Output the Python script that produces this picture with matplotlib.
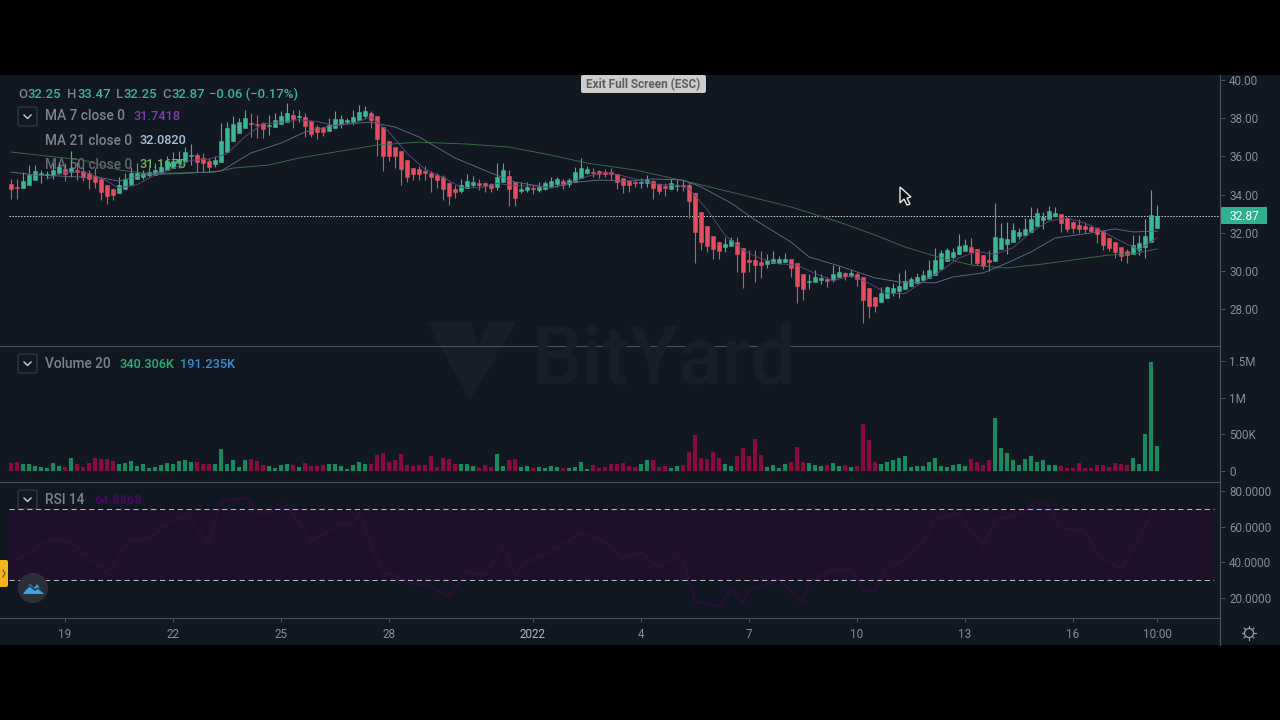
import matplotlib
matplotlib.use("Agg")
import matplotlib.pyplot as plt
from matplotlib.patches import Rectangle, FancyBboxPatch, Circle, Polygon
import numpy as np

plt.rcParams["font.family"] = ["Roboto", "DejaVu Sans"]

# 4h candles
opens = [34.55,34.40,34.34,34.50,34.76,35.08,35.03,35.03,35.13,35.34,35.18,35.29,
         35.24,35.13,34.97,34.82,34.50,34.29,34.08,34.29,34.50,34.82,34.92,35.03,
         35.03,35.13,35.29,35.39,35.65,35.76,36.02,36.07,35.92,35.76,35.60,35.71,
         36.23,36.81,37.23,37.49,37.75,37.70,37.75,37.59,37.54,37.70,37.80,38.17,
         38.07,38.07,37.85,37.54,37.49,37.33,37.49,37.70,37.80,37.80,37.91,38.12,
         38.27,38.12,37.54,36.81,36.49,36.28,35.81,35.39,35.34,35.24,35.13,35.03,
         34.92,34.61,34.29,34.19,34.34,34.50,34.61,34.61,34.55,34.40,34.66,34.97,
         34.66,34.19,34.24,34.34,34.24,34.29,34.45,34.55,34.71,34.55,34.66,34.87,
         35.13,35.18,35.24,35.18,35.18,35.08,34.87,34.71,34.66,34.61,34.61,34.71,
         34.55,34.45,34.29,34.45,34.50,34.50,34.08,33.09,32.35,31.83,31.51,31.25,
         31.30,31.51,31.20,30.57,30.57,30.47,30.36,30.41,30.41,30.47,30.62,30.41,
         29.84,29.42,29.42,29.52,29.58,29.52,29.68,29.89,29.73,29.84,29.68,29.10,
         28.63,28.37,28.58,28.84,28.95,29.05,29.21,29.37,29.52,29.63,29.79,30.10,
         30.52,30.73,30.89,31.04,31.25,31.15,30.83,30.57,30.52,31.15,31.41,31.51,
         31.83,31.88,32.04,32.35,32.67,32.72,32.88,32.98,32.77,32.56,32.40,32.35,
         32.30,32.25,32.09,31.72,31.51,31.25,31.04,30.89,31.10,31.25,31.51,32.25]
closes = [34.29,34.34,34.71,35.03,35.24,35.13,35.08,35.29,35.45,35.08,35.39,35.18,
          34.92,34.82,34.66,34.13,33.93,33.98,34.50,34.82,35.13,35.13,35.13,35.18,
          35.29,35.45,35.76,35.76,35.86,36.23,36.07,35.71,35.65,35.45,35.81,36.81,
          37.49,37.70,37.80,38.01,37.70,37.65,37.44,37.65,37.91,38.12,38.27,37.96,
          38.12,37.59,37.17,37.28,37.28,37.65,37.96,37.96,37.91,38.07,38.33,38.38,
          37.91,36.91,36.02,36.02,36.02,35.34,34.92,35.08,35.08,35.13,34.92,34.76,
          34.29,33.93,34.13,34.50,34.71,34.66,34.50,34.45,34.34,34.92,35.29,34.29,
          33.82,34.29,34.40,34.29,34.40,34.61,34.71,34.82,34.50,34.76,35.18,35.39,
          35.34,35.13,35.08,35.08,35.08,34.66,34.50,34.50,34.61,34.66,34.76,34.34,
          34.19,34.34,34.61,34.50,34.45,33.66,32.04,31.51,31.30,31.15,31.04,31.41,
          31.62,30.89,29.94,30.47,30.31,30.31,30.57,30.62,30.62,30.62,30.15,29.21,
          29.05,29.47,29.68,29.63,29.47,29.84,29.94,29.73,29.89,29.58,28.48,28.16,
          28.16,28.84,29.16,29.10,29.21,29.47,29.58,29.68,29.79,30.05,30.57,30.94,
          31.10,30.99,31.30,31.36,30.99,30.41,30.26,30.47,31.78,31.72,31.67,32.14,
          32.04,32.20,32.72,33.03,32.82,33.14,33.03,32.51,32.20,32.25,32.20,32.20,
          32.09,31.93,31.36,31.20,30.99,30.78,30.83,31.36,31.46,31.83,32.93,32.87]
highs = [34.82,34.82,35.18,35.55,35.55,35.29,35.24,35.65,35.71,35.65,36.28,35.71,
         35.45,35.29,35.39,34.92,34.50,34.34,34.92,35.13,35.45,35.65,35.29,35.45,
         35.65,35.71,36.02,36.23,36.28,36.49,36.65,36.18,36.18,35.92,36.02,37.75,
         37.80,38.12,38.01,38.43,38.27,38.17,37.80,38.17,38.27,38.38,38.80,38.43,
         38.43,38.27,37.85,37.65,37.54,38.01,38.38,38.17,38.01,38.43,38.69,38.64,
         38.38,38.12,37.54,36.81,36.49,36.28,35.81,35.39,35.50,35.50,35.24,35.13,
         35.03,34.66,34.50,34.82,35.08,34.97,34.82,34.66,34.61,35.65,35.65,35.29,
         34.66,34.66,34.66,34.50,34.66,34.71,34.92,34.92,34.82,34.87,35.45,35.92,
         35.50,35.39,35.29,35.34,35.39,35.08,34.87,34.76,34.71,34.87,35.03,34.76,
         34.61,34.61,34.82,34.76,34.76,34.66,34.08,33.09,32.35,31.83,31.51,31.78,
         31.78,31.78,31.20,31.10,31.10,31.04,30.89,31.04,30.78,30.94,30.62,30.41,
         29.84,29.84,30.05,29.84,29.68,30.31,30.26,29.94,30.05,29.94,29.68,29.10,
         28.63,29.16,29.21,29.37,29.89,30.05,29.68,29.89,30.05,30.57,31.20,31.10,
         31.20,31.20,31.93,31.67,31.72,31.15,30.83,31.10,33.56,32.51,32.56,32.51,
         32.25,32.77,33.35,33.30,33.09,33.40,33.35,32.98,32.77,32.61,32.72,32.56,
         32.40,32.30,32.09,31.72,31.51,31.25,31.15,31.88,31.88,32.72,34.24,33.47]
lows = [33.77,33.77,34.34,34.50,34.76,34.61,34.82,34.82,35.13,34.71,34.92,34.76,
        34.71,34.29,34.34,33.72,33.51,33.72,34.08,34.29,34.50,34.82,34.82,34.92,
        35.03,35.13,35.29,35.39,35.39,35.76,35.55,35.18,35.18,35.18,35.45,35.71,
        36.23,36.81,37.23,37.49,37.02,36.96,36.96,37.12,37.54,37.70,37.80,37.49,
        37.80,37.02,37.02,36.91,37.07,37.33,37.49,37.49,37.70,37.65,37.91,38.01,
        37.49,36.02,35.24,35.76,35.39,34.50,34.66,34.76,34.76,34.76,34.13,34.34,
        33.72,33.45,33.82,34.08,34.34,34.40,34.24,34.13,34.13,34.24,34.66,33.40,
        33.40,34.08,34.13,34.03,34.13,34.24,34.40,34.40,34.29,34.40,34.66,34.87,
        35.08,34.92,34.87,34.92,34.76,34.29,34.08,34.13,34.40,34.34,34.40,33.77,
        34.03,33.93,34.29,34.19,34.19,32.77,30.41,31.10,30.99,30.62,30.62,30.99,
        31.30,29.94,29.10,29.94,29.42,29.63,30.15,30.41,30.36,30.47,29.68,28.32,
        28.48,29.05,29.42,29.31,29.16,29.42,29.68,29.52,29.68,29.21,27.27,27.53,
        27.85,28.37,28.58,28.69,28.58,29.05,29.21,29.37,29.42,29.63,29.79,30.10,
        30.52,30.62,30.89,31.04,30.36,30.31,30.10,30.00,30.52,31.15,30.89,31.51,
        31.67,31.88,32.04,32.35,32.20,32.72,32.82,32.04,32.04,31.99,31.99,31.99,
        32.04,31.46,31.10,31.04,30.68,30.52,30.41,30.89,30.83,30.68,31.51,32.25]

# volume in thousands
volumes = [110,124,83,92,60,46,37,110,60,46,174,92,
           55,110,170,161,161,128,92,110,128,64,92,37,
           55,69,110,92,128,151,115,124,83,92,83,298,
           83,151,55,147,161,128,78,60,37,69,92,78,
           46,106,64,60,69,92,83,64,23,78,115,83,
           92,220,243,119,138,229,78,60,69,69,193,55,
           174,161,83,83,92,64,37,69,46,229,60,151,
           161,55,64,37,46,37,60,55,37,37,46,115,
           23,73,37,55,92,92,101,64,46,83,151,138,
           46,60,37,60,73,252,491,174,161,257,174,92,
           60,206,312,193,436,216,55,78,37,92,124,321,
           124,101,78,64,78,106,64,78,46,60,642,422,
           124,92,115,138,174,206,46,64,64,124,174,60,
           46,78,92,60,161,124,78,138,725,312,243,138,
           78,161,206,124,151,69,69,64,37,37,106,37,
           37,78,78,46,106,92,78,174,92,505,1495,340]

# moving averages, candle index and value
ma7_idx = [6,9,12,15,18,21,24,27,30,33,36,39,42,45,48,51,54,57,60,63,66,69,72,75,78,81,84,87,
           90,93,96,99,102,105,108,111,113,116,119,122,125,128,131,134,137,140,143,146,149,
           152,155,158,161,164,167,170,173,176,179,182,185,188,191]
ma7_vals = [34.83,35.17,35.20,34.88,34.34,34.52,35.03,35.37,35.80,35.86,36.14,37.04,37.71,37.78,
            37.93,37.83,37.61,37.73,38.07,37.28,36.16,35.33,34.90,34.38,34.35,34.58,34.46,34.46,
            34.36,34.58,34.96,35.14,34.98,34.73,34.52,34.49,34.30,33.22,31.87,31.08,30.64,30.37,
            30.30,29.86,29.49,29.74,29.35,28.82,28.81,29.43,30.01,30.68,31.01,30.87,31.21,32.04,
            32.61,32.78,32.50,32.06,31.55,31.11,31.74]
ma21_idx = [0,4,15,18,22,26,33,35,40,45,49,54,60,64,68,74,80,84,90,93,98,103,107,112,115,120,
            124,130,133,138,144,148,154,157,162,166,170,174,180,184,187,191]
ma21_vals = [35.18,35.03,34.87,34.71,35.03,35.08,35.18,35.24,36.18,36.70,37.28,37.65,37.80,37.54,
             37.02,35.92,35.13,34.66,34.34,34.61,34.76,34.71,34.82,34.76,34.40,33.56,32.67,31.51,
             30.73,30.26,29.63,29.42,29.37,29.68,29.89,30.41,30.99,31.72,31.99,32.20,32.04,32.08]
ma50_idx = [0,6,12,18,22,28,34,37,43,48,54,61,68,76,83,90,96,104,113,120,130,138,144,149,155,
            160,166,172,177,183,187,191]
ma50_vals = [36.23,36.02,35.81,35.29,35.13,35.13,35.18,35.39,35.55,35.92,36.23,36.60,36.75,36.65,
             36.49,36.07,35.65,35.29,34.66,34.13,33.35,32.56,31.88,31.25,30.68,30.31,30.15,30.36,
             30.57,30.83,30.89,31.15]

rsi_idx = [0,4,7,10,16,20,23,27,29,33,35,39,42,46,50,55,57,58,62,64,66,70,73,76,79,82,84,86,91,95,
           99,102,105,108,111,112,114,118,120,122,123,128,132,133,137,140,142,144,146,148,151,152,
           154,158,162,164,168,171,173,175,179,181,185,190,191]
rsi_vals = [38.7,48.3,52.6,51.3,34.0,52.6,53.2,63.8,66.2,51.3,74.0,76.3,66.6,72.2,51.7,61.9,61.4,67.5,
            34.0,33.0,29.0,26.6,21.0,34.6,33.0,48.9,33.0,40.0,48.0,56.3,51.7,42.4,46.0,36.8,45.0,43.0,
            18.0,15.4,25.6,17.0,24.7,30.0,18.0,29.0,36.0,36.0,24.7,24.0,37.7,39.6,49.0,50.8,63.8,67.5,
            48.9,63.8,67.5,74.0,72.0,59.0,58.0,45.0,36.0,65.7,64.9]

price_ticks = [28, 30, 32, 34, 36, 38, 40]
vol_ticks = [0, 500, 1000, 1500]
vol_labels = ["0", "500K", "1M", "1.5M"]
rsi_ticks = [20, 40, 60, 80]
time_idx = [9, 27, 45, 63, 87, 105, 123, 141, 159, 177, 191]
time_labels = ["19", "22", "25", "28", "2022", "4", "7", "10", "13", "16", "10:00"]
last_close = 32.87

BG = "#121821"
GRID = "#4a5468"
AXTXT = "#868c98"
LABEL = "#7d828f"
UP = "#3ab795"
DOWN = "#e64d5e"
VOL_UP = "#178a5e"
VOL_DOWN = "#8c0b3f"

fig = plt.figure(figsize=(12.8, 7.2), dpi=100, facecolor="black")

# pixel coordinate axes for everything that is not data, one behind the panes and one in front
bg = fig.add_axes([0, 0, 1, 1], zorder=0)
fg = fig.add_axes([0, 0, 1, 1], zorder=5)
for a in (bg, fg):
    a.set_xlim(0, 1280)
    a.set_ylim(720, 0)
    a.axis("off")
bg.add_patch(Rectangle((0, 75), 1280, 570, fc=BG, ec="none"))


def label(x, y, s, color=LABEL, size=9.2, **kw):
    bg.text(x, y, s, color=color, fontsize=size, va="center", ha=kw.pop("ha", "left"), **kw)


def chevron_box(x0, y0, x1, y1):
    bg.add_patch(FancyBboxPatch((x0 + 2, y0 + 2), x1 - x0 - 4, y1 - y0 - 4,
                                boxstyle="round,pad=2,rounding_size=2", fc="none", ec="#363c4a", lw=0.8))
    cx, cy = (x0 + x1) / 2, (y0 + y1) / 2
    bg.plot([cx - 3.5, cx, cx + 3.5], [cy - 1.5, cy + 2, cy - 1.5], color="#c8ccd4", lw=1.0)


# watermark
bg.add_patch(Polygon([(427, 322), (472, 322), (478, 345), (490, 322), (516, 322), (470, 400)],
                     fc="#181e28", ec="none"))
bg.text(531, 362, "BitYard", color="#181e28", fontsize=58, fontweight="medium", va="center", ha="left")

# header
for x, s, c in [(18, "O", LABEL), (28, "32.25", UP), (67, "H", LABEL), (77, "33.47", UP),
                (116, "L", LABEL), (124, "32.25", UP), (162, "C", LABEL), (172, "32.87", UP),
                (209, "\u22120.06 (\u22120.17%)", UP)]:
    label(x, 94, s, c, size=9.45, fontweight="medium")

chevron_box(18, 107, 37, 126)
label(45, 116.5, "MA 7 close 0", size=9.9, fontweight="medium")
label(133, 116.5, "31.7418", "#7b43a8", fontweight="medium")
label(45, 141, "MA 21 close 0", size=9.8, fontweight="medium")
label(140, 141, "32.0820", "#a9bede", fontweight="medium")
label(45, 165, "MA 50 close 0", size=9.8, fontweight="medium", alpha=0.75)
label(140, 165, "31.1670", "#6dbb58", fontweight="medium")

chevron_box(18, 354, 37, 373)
label(45, 364, "Volume 20", size=9.8, fontweight="medium")
label(119, 364, "340.306K", "#22b573", fontweight="medium")
label(180, 364, "191.235K", "#2f90d8", fontweight="medium")

chevron_box(18, 490, 37, 509)
label(45, 500, "RSI 14", size=9.8, fontweight="medium")
label(94, 500, "64.8868", "#470a5c", fontweight="bold")

# pane frames
for y in [346, 482, 618]:
    bg.plot([0, 1220], [y, y], color=GRID, lw=0.8)
bg.plot([1220, 1220], [75, 645], color=GRID, lw=0.8)

# last price tag
bg.add_patch(Rectangle((1221, 207), 46, 17, fc="#2fb08e", ec="none"))
bg.text(1229, 216, "%.2f" % last_close, color="white", fontsize=8.6, va="center", ha="left")

# fullscreen hint, side handle, logo button, cursor, settings icon
fg.add_patch(FancyBboxPatch((583, 77), 121, 14, boxstyle="round,pad=2,rounding_size=2", fc="#cdcdcd", ec="none"))
fg.text(643, 84.5, "Exit Full Screen (ESC)", color="#5e5e5e", fontsize=8.5, fontweight="bold", ha="center", va="center")
fg.add_patch(FancyBboxPatch((0, 562), 6, 23, boxstyle="round,pad=2,rounding_size=2", fc="#f4b41e", ec="none"))
fg.plot([3, 5, 3], [570, 573.5, 577], color="#6b5210", lw=0.8)
fg.add_patch(Circle((33, 588), 15, fc="#2b3038", ec="none"))
fg.add_patch(Polygon([(23, 594), (30, 584), (34, 588), (37, 584), (44, 594)], fc="#38a4e6", ec="none"))
fg.plot([23, 30, 35, 38, 43], [591, 586, 590, 588, 592], color="#2b3038", lw=1.0)
fg.add_patch(Polygon([(900, 187), (900, 203), (904, 199), (907, 205), (910, 204), (907, 198), (911, 197)],
                     fc="#111111", ec="#e8e8e8", lw=1.0))
bg.add_patch(Circle((1249, 633), 4.5, fc="none", ec="#9aa0ac", lw=0.9))
for a in np.arange(0, 360, 45):
    ca, sa = np.cos(np.radians(a)), np.sin(np.radians(a))
    bg.plot([1249 + 5 * ca, 1249 + 7 * ca], [633 + 5 * sa, 633 + 7 * sa], color="#9aa0ac", lw=0.8)


def pane(top, bottom):
    ax = fig.add_axes([0, 1 - bottom / 720, 1220 / 1280, (bottom - top) / 720], zorder=2)
    ax.patch.set_visible(False)
    for s in ax.spines.values():
        s.set_visible(False)
    ax.set_xlim(-11 / 6, 1209 / 6)
    ax.yaxis.tick_right()
    ax.tick_params(axis="y", length=3.6, width=0.7, color=GRID, labelcolor=AXTXT, labelsize=8.4, pad=3)
    ax.set_xticks([])
    return ax


idx = np.arange(len(opens))
opens_a, closes_a = np.array(opens), np.array(closes)
is_up = closes_a >= opens_a

# price pane
ax1 = pane(75, 346)
ax1.set_ylim(26.06, 40.27)
ax1.vlines(idx, lows, highs, colors=np.where(is_up, UP, DOWN), lw=0.8, zorder=3)
body_bottom = np.minimum(opens_a, closes_a)
body_height = np.abs(closes_a - opens_a)
for up, col in [(True, UP), (False, DOWN)]:
    ax1.bar(idx[is_up == up], body_height[is_up == up], 0.82, bottom=body_bottom[is_up == up],
            color=col, edgecolor=col, lw=0.4, zorder=4)
ax1.plot(ma50_idx, ma50_vals, color="#3a6f4c", lw=0.65, zorder=5)
ax1.plot(ma21_idx, ma21_vals, color="#5f6c86", lw=0.65, zorder=5)
ax1.plot(ma7_idx, ma7_vals, color="#5f4680", lw=0.65, zorder=5)
ax1.plot([-1.0 / 3, 201.5], [last_close, last_close], color="#c9d6d2", lw=0.7, ls=(0, (1.5, 1.5)), zorder=2)
ax1.set_yticks(price_ticks)
ax1.set_yticklabels(["%.2f" % t for t in price_ticks])

# volume pane
ax2 = pane(346, 482)
ax2.set_ylim(-158, 1713)
ax2.bar(idx, volumes, 0.8, color=np.where(is_up, VOL_UP, VOL_DOWN))
ax2.set_yticks(vol_ticks)
ax2.set_yticklabels(vol_labels)

# RSI pane
ax3 = pane(482, 618)
ax3.set_ylim(8.8, 85.05)
ax3.fill_between([-1.0 / 3, 200.5], 30, 70, color="#20112a", lw=0, zorder=1)
ax3.plot(rsi_idx, rsi_vals, color="#2a1036", lw=1.8, zorder=2)
for level in [30, 70]:
    ax3.plot([-1.0 / 3, 200.5], [level, level], color="#b8b4c0", lw=0.75, ls=(0, (5, 3.5)), zorder=3)
ax3.set_yticks(rsi_ticks)
ax3.set_yticklabels(["%.4f" % t for t in rsi_ticks])
ax3.set_xticks(time_idx)
ax3.set_xticklabels(time_labels)
ax3.tick_params(axis="x", length=3, width=0.7, color=GRID, labelcolor=AXTXT, labelsize=8.4, pad=4)
ax3.get_xticklabels()[4].set_color("#b2b5bc")

fig.savefig("out.png", dpi=100, facecolor="black")
